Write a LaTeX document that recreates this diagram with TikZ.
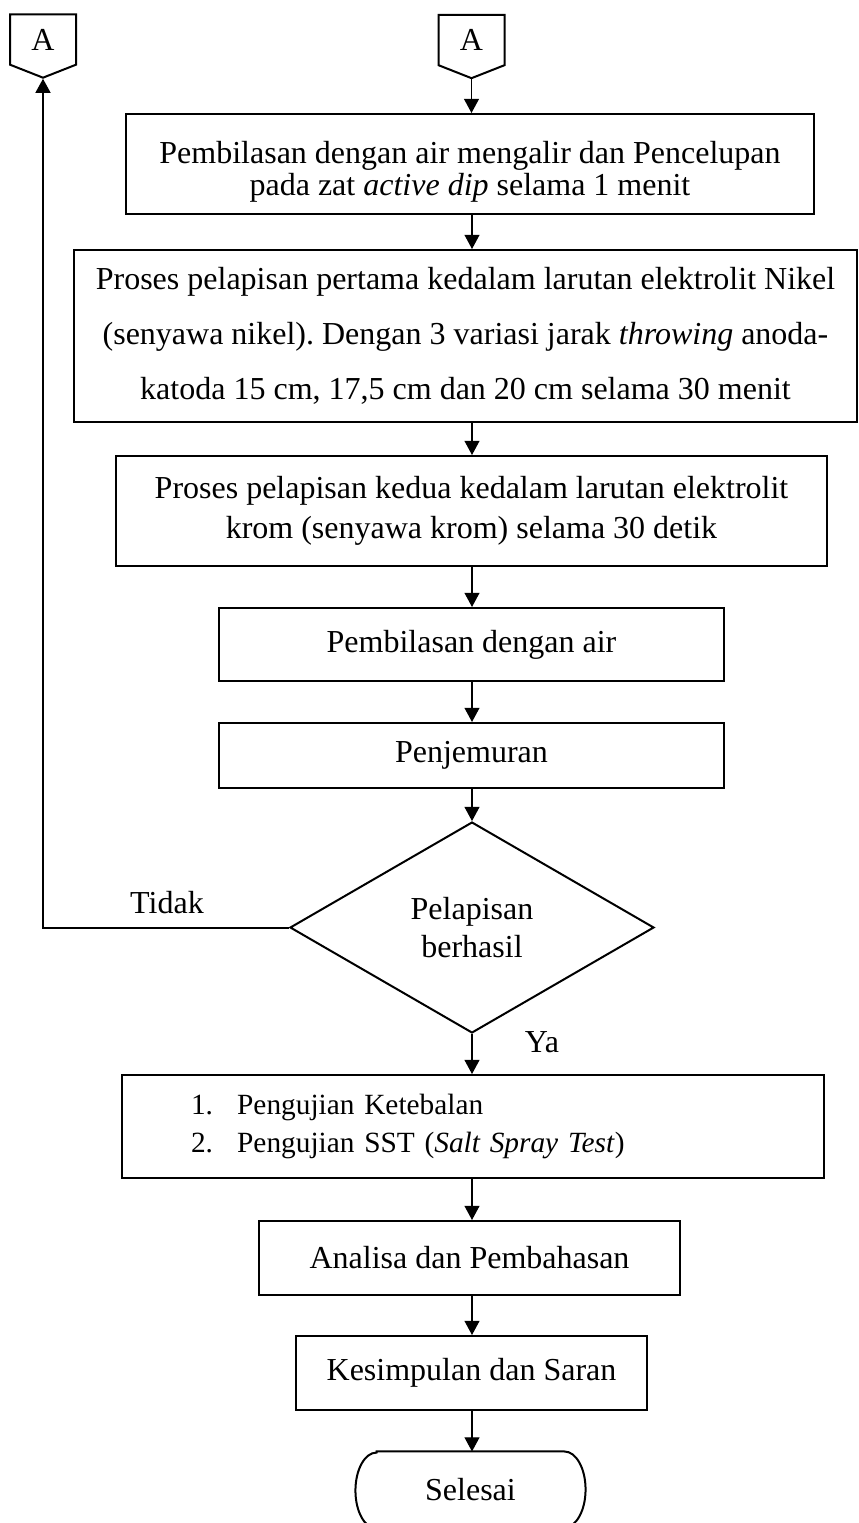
\documentclass[tikz,border=0pt]{standalone}
\usepackage{fontspec}
\setmainfont{Liberation Serif}
\frenchspacing
\usetikzlibrary{arrows.meta,shapes.geometric,shapes.symbols}

\begin{document}
\begin{tikzpicture}[x=0.375pt, y=-0.375pt, font=\fontsize{12}{14}\selectfont,
    kotak/.style={draw, line width=0.75pt, align=center, inner sep=0pt},
    panah/.style={-{Triangle[width=5.6pt,length=5.3pt]}, line width=0.45pt},
    konektor/.style={draw, line width=0.75pt, signal, signal to=south, signal pointer angle=137,
      inner sep=0pt, minimum width=24.75pt, minimum height=20.6pt}]
    \useasboundingbox (0,0) rectangle (858,1523);
    \coordinate (sumbu) at (472,0);
    \node[konektor] (konA) at (43,39.5) {A};
    \node[konektor] (konB) at (471.5,40) {A};
    \node[kotak, minimum width=258pt, minimum height=37.5pt, font={\fontsize{12}{12}\selectfont\lineskiplimit-10pt\relax}]
      (bilas1) at (470,164) {\rule{0pt}{14pt}Pembilasan dengan air mengalir dan Pencelupan\\pada zat \textit{active dip} selama 1 menit};
    \node[kotak, minimum width=293.6pt, minimum height=64.5pt, font=\fontsize{12}{20.6}\selectfont]
      (lapis1) at (465.5,336) {Proses pelapisan pertama kedalam larutan elektrolit Nikel\\(senyawa nikel). Dengan 3 variasi jarak \textit{throwing} anoda-\\katoda 15 cm, 17,5 cm dan 20 cm selama 30 menit};
    \node[kotak, minimum width=266.6pt, minimum height=41.25pt, font=\fontsize{12}{15}\selectfont]
      (lapis2) at (471.5,511) {Proses pelapisan kedua kedalam larutan elektrolit\\krom (senyawa krom) selama 30 detik};
    \node[kotak, minimum width=189.4pt, minimum height=27.4pt] (bilas2) at (471.5,644.5) {Pembilasan dengan air};
    \node[kotak, minimum width=189.4pt, minimum height=24.4pt] (jemur) at (471.5,755.5) {Penjemuran};
    \node[diamond, draw, line width=0.75pt, align=center, inner sep=0pt, minimum width=136.5pt,
      minimum height=79.1pt, font=\fontsize{12}{14.25}\selectfont] (cek) at (472,927.5) {Pelapisan\\berhasil};
    \node[kotak, align=left, minimum width=263.25pt, minimum height=38.6pt, text width=211.45pt,
      inner xsep=25.9pt, font=\fontsize{11}{13.9}\selectfont]
      (uji) at (473,1126.5) {\makebox[17.3pt][l]{1.}Pengujian Ketebalan\\\makebox[17.3pt][l]{2.}Pengujian SST (\textit{Salt Spray Test})};
    \node[kotak, minimum width=157.9pt, minimum height=27.75pt] (analisa) at (469.5,1258) {Analisa dan Pembahasan};
    \node[kotak, minimum width=131.6pt, minimum height=27.75pt] (simpul) at (471.5,1373) {Kesimpulan dan Saran};
    \node[inner sep=0pt, minimum width=85.9pt, minimum height=28.5pt] (selesai) at (470.5,1490) {\raisebox{-2.6pt}{Selesai}};
    \draw[line width=0.75pt] ([xshift=7.9pt]selesai.north west) -- ([xshift=-7.9pt]selesai.north east)
      arc[start angle=90, end angle=-90, x radius=7.9pt, y radius=14.25pt] -- ([xshift=7.9pt]selesai.south west)
      arc[start angle=270, end angle=90, x radius=7.9pt, y radius=14.25pt] -- cycle;
    \node (tidak) at (167,903) {Tidak};
    \node (ya) at (542,1042) {Ya};
    \draw[panah] (konB.south) -- (konB.south |- bilas1.north);
    \foreach \a/\b in {bilas1/lapis1, lapis1/lapis2, lapis2/bilas2, bilas2/jemur, jemur/cek,
      cek/uji, uji/analisa, analisa/simpul, simpul/selesai}
    \draw[panah] (sumbu |- \a.south) -- (sumbu |- \b.north);
    \draw[panah, line width=0.75pt] (cek.west) -| (konA.south);
\end{tikzpicture}
\end{document}
